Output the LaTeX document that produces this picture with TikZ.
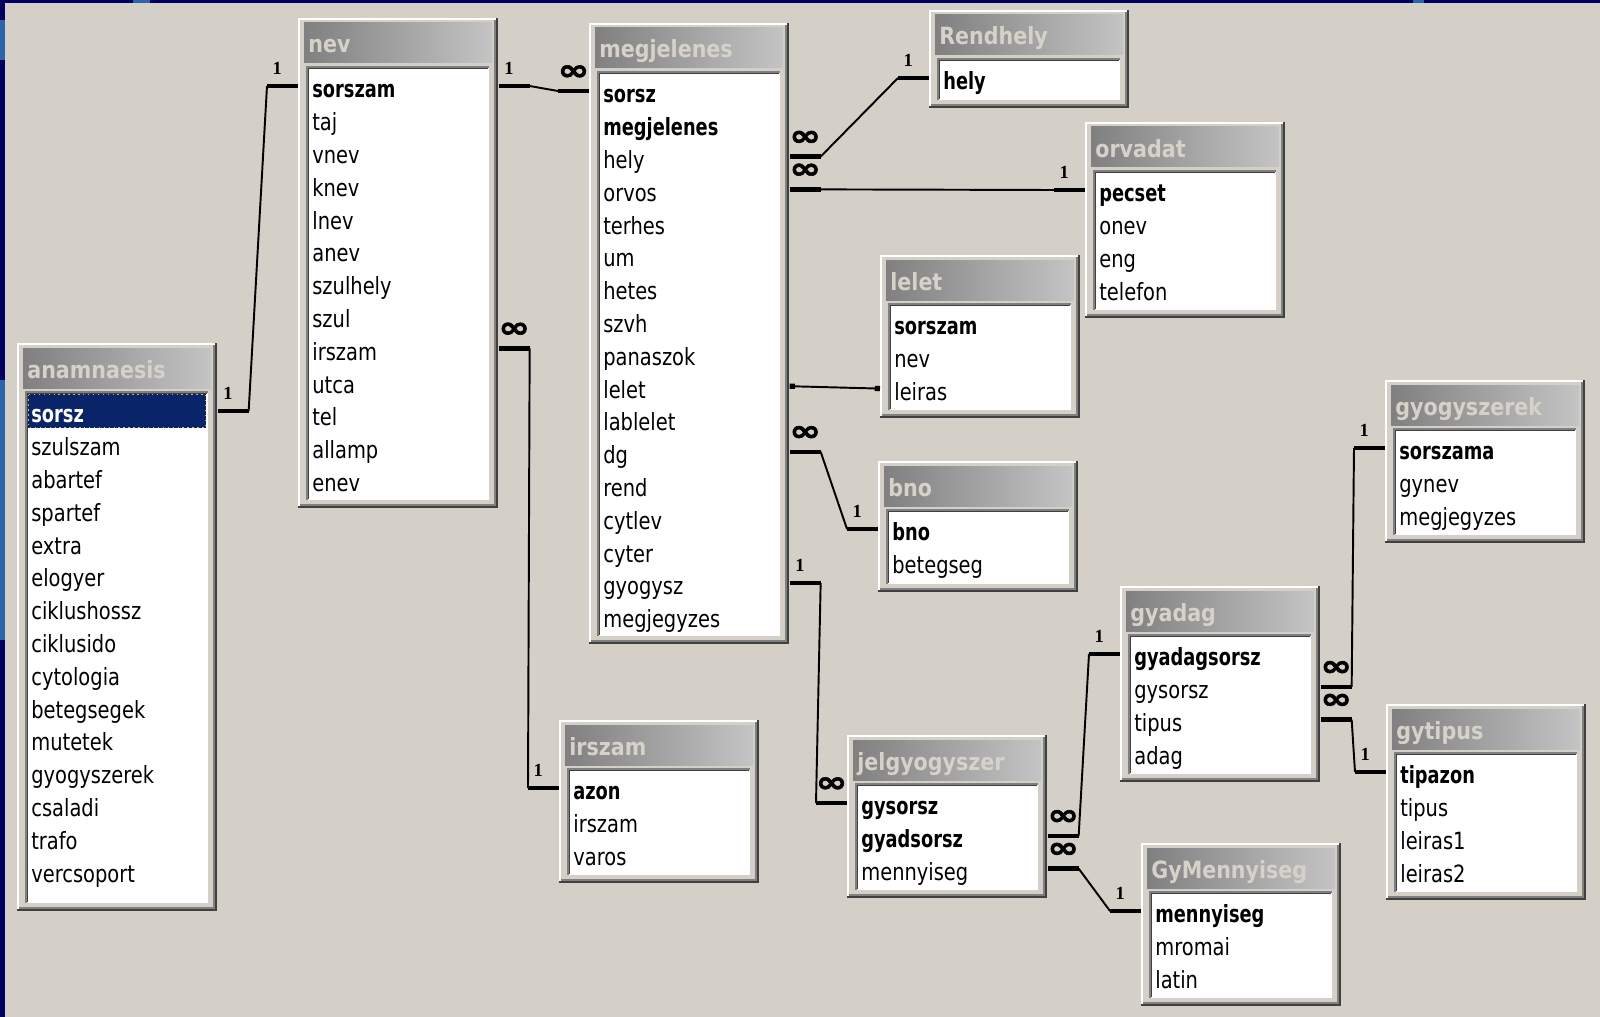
\documentclass[tikz,border=0pt]{standalone}
\usepackage{fontspec}
\setmainfont{DejaVu Sans}
\newfontfamily\infont[FakeBold=2]{DejaVu Sans Bold}
\newfontfamily\onefont{Liberation Serif}
\usetikzlibrary{arrows.meta}

\definecolor{winface}{HTML}{D4D0C8}
\definecolor{hdrdark}{HTML}{808080}
\definecolor{hdrlight}{HTML}{C4C4C4}
\definecolor{titletext}{HTML}{D6D2CA}
\definecolor{shadow}{HTML}{404040}
\definecolor{slidenavy}{HTML}{00005E}
\definecolor{slideblue}{HTML}{2D63A8}
\definecolor{selnavy}{HTML}{0A246A}
\definecolor{focusdot}{HTML}{C8B878}

\newcommand{\fld}[1]{\scalebox{0.82}[1]{#1}}
\newcommand{\key}[1]{\scalebox{0.915}[1]{\bfseries #1}}
\newcommand{\ttl}[1]{\scalebox{0.87}[1]{#1}}
\newcommand{\many}{\infont\fontsize{16.5}{16}\selectfont\scalebox{1.3}[1]{∞}}
\newcommand{\one}{\onefont\fontsize{10.5}{10}\selectfont\bfseries 1\hspace*{6pt}}
\def\bareast{31}
\def\barwest{-31}

\tikzset{
  tablebox/.style={anchor=north west, inner sep=0, minimum width=4cm},
  tabtitle/.style={anchor=base west, inner sep=0, text=titletext,
    font=\fontsize{13.5}{14}\selectfont\bfseries},
  field/.style={anchor=west, inner sep=0, text height=15.2pt, text depth=1.6pt,
    font=\fontsize{13.5}{14}\selectfont},
  edgelight/.style={white, line width=1.1pt},
  edgeshadow/.style={shadow, line width=1.1pt},
  edgegrey/.style={hdrdark, line width=1.1pt},
  relbar/.style={line width=2.6pt},
  relline/.style={line width=1.1pt},
  card/.style={above=5pt, inner sep=0}
}

% table window: [extra], name, top left, height, title, fields
\newcommand{\dbtable}[6][]{%
  \begin{scope}[shift={#3}]
    \node[tablebox, minimum height={#4*0.02cm}] (#2) at (0,0) {};
    \fill[winface] (0,0) rectangle (200,#4);
    \draw[edgelight] (1,#4-2) -- (1,1) -- (198,1);
    \draw[edgeshadow] (0,#4-1) -- (199,#4-1) -- (199,0);
    \draw[edgegrey] (2,#4-3) -- (197,#4-3) -- (197,2);
    \shade[left color=hdrdark, right color=hdrlight] (6,5) rectangle (194,45);
    \node[tabtitle] (#2-title) at (10,35) {\ttl{#5}};
    \fill[white] (9,49) rectangle (191,#4-8);
    \draw[edgegrey] (9,#4-8) -- (9,49) -- (191,49);
    \draw[edgeshadow] (10.5,#4-9) -- (10.5,50.5) -- (190,50.5);
    #1
    \foreach \f [count=\i] in {#6}
      \node[field] (#2-\i) at (14,{68+(\i-1)*32.8}) {\fld{\f}};
  \end{scope}}

\begin{document}
\begin{tikzpicture}[x=0.02cm, y=-0.02cm]
\useasboundingbox (0,0) rectangle (1600,1017);
\fill[winface] (0,0) rectangle (1600,1017);
\fill[slidenavy] (0,0) rectangle (1600,3);
\fill[slidenavy] (0,0) rectangle (5,1017);
\fill[slideblue] (0,20) rectangle (5,60);
\fill[slideblue] (0,380) rectangle (5,640);
\fill[slideblue] (133,0) rectangle (150,3);
\fill[slideblue] (1413,0) rectangle (1424,3);

\dbtable[{\fill[selnavy] (11,51) rectangle (189,85);
  \draw[focusdot, dotted, line width=0.8pt] (11.5,51.5) rectangle (188.5,84.5);}]
  {anamnaesis}{(17,343)}{568}{anamnaesis}
  {{\color{white}\key{sorsz}}, szulszam, abartef, spartef, extra, elogyer,
   ciklushossz, ciklusido, cytologia, betegsegek, mutetek, gyogyszerek,
   csaladi, trafo, vercsoport}
\dbtable{nev}{(298,18)}{490}{nev}
  {\key{sorszam}, taj, vnev, knev, lnev, anev, szulhely, szul, irszam, utca,
   tel, allamp, enev}
\dbtable{megjelenes}{(589,23)}{621}{megjelenes}
  {\key{sorsz}, \key{megjelenes}, hely, orvos, terhes, um, hetes, szvh,
   panaszok, lelet, lablelet, dg, rend, cytlev, cyter, gyogysz, megjegyzes}
\dbtable{Rendhely}{(929,10)}{98}{Rendhely}{\key{hely}}
\dbtable{orvadat}{(1085,122)}{196}{orvadat}{\key{pecset}, onev, eng, telefon}
\dbtable{lelet}{(880,255)}{163}{lelet}{\key{sorszam}, nev, leiras}
\dbtable{bno}{(878,461)}{131}{bno}{\key{bno}, betegseg}
\dbtable{gyogyszerek}{(1385,380)}{163}{gyogyszerek}
  {\key{sorszama}, gynev, megjegyzes}
\dbtable{gyadag}{(1120,586)}{196}{gyadag}{\key{gyadagsorsz}, gysorsz, tipus, adag}
\dbtable{gytipus}{(1386,704)}{196}{gytipus}{\key{tipazon}, tipus, leiras1, leiras2}
\dbtable{irszam}{(559,720)}{163}{irszam}{\key{azon}, irszam, varos}
\dbtable{jelgyogyszer}{(847,735)}{163}{jelgyogyszer}
  {\key{gysorsz}, \key{gyadsorsz}, mennyiseg}
\dbtable{GyMennyiseg}{(1141,843)}{163}{GyMennyiseg}{\key{mennyiseg}, mromai, latin}

% relationships
\foreach \ta/\ra/\sa/\la/\tb/\rb/\sb/\lb in {
  anamnaesis/1/east/\one/nev/1/west/\one,
  nev/1/east/\one/megjelenes/1/west/\many,
  nev/9/east/\many/irszam/1/west/\one,
  megjelenes/3/east/\many/Rendhely/1/west/\one,
  megjelenes/4/east/\many/orvadat/1/west/\one,
  megjelenes/12/east/\many/bno/1/west/\one,
  megjelenes/16/east/\one/jelgyogyszer/1/west/\many,
  jelgyogyszer/2/east/\many/gyadag/1/west/\one,
  jelgyogyszer/3/east/\many/GyMennyiseg/1/west/\one,
  gyadag/2/east/\many/gyogyszerek/1/west/\one,
  gyadag/3/east/\many/gytipus/1/west/\one}
{
  \draw[relbar] (\ta.\sa |- \ta-\ra) -- node[card] {\la}
    ++(\csname bar\sa\endcsname,0) coordinate (ra);
  \draw[relbar] (\tb.\sb |- \tb-\rb) -- node[card] {\lb}
    ++(\csname bar\sb\endcsname,0) coordinate (rb);
  \draw[relline] (ra) -- (rb);
}
\draw[relline, {Square[length=3pt,width=3pt]}-{Square[length=3pt,width=3pt]}]
  (megjelenes.east |- megjelenes-10) -- (lelet.west |- lelet-3);
\end{tikzpicture}
\end{document}
